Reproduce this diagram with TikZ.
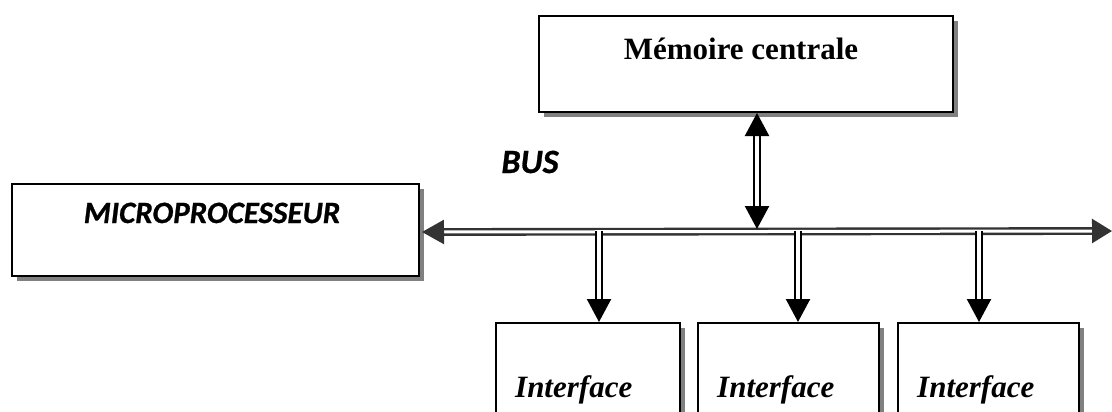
\documentclass[tikz,border=0pt]{standalone}
\usepackage{fontspec}
\setmainfont{Liberation Serif}
\newfontfamily\calib[BoldItalicFeatures={FakeBold=0.8}]{Carlito}
\usetikzlibrary{arrows.meta,shadows}
\definecolor{shadegrey}{HTML}{808080}
\definecolor{busgrey}{HTML}{333333}

\begin{document}
\begin{tikzpicture}[x=1pt,y=-1pt,
  box/.style={draw=black, line width=2pt, fill=white, inner sep=0pt, anchor=north west,
    drop shadow={shadow xshift=5pt, shadow yshift=-5pt, fill=shadegrey, opacity=1}},
  seriftxt/.style={inner sep=0pt, font=\fontsize{31}{37}\selectfont\bfseries},
  sanstxt/.style={inner sep=0pt, font=\fontsize{31}{37}\selectfont\calib\bfseries\itshape},
  arrtip/.tip={Triangle[width=24pt,length=23pt]},
  buslink/.style={draw=busgrey, line width=2.4pt, double=white, double distance=3pt,
    {Triangle[width=24pt,length=22pt]}-{Triangle[width=24pt,length=20pt]}},
  link/.style={draw=black, line width=2.3pt, double=white, double distance=3.6pt}
]
\clip (0,0) rectangle (1112,412);

% blocks
\node[box, minimum width=414pt, minimum height=96pt] (mem) at (538,15) {};
\node[box, minimum width=407pt, minimum height=92pt] (cpu) at (11,183) {};
\node[box, minimum width=184pt, minimum height=120pt] (if1) at (495,322) {};
\node[box, minimum width=181pt, minimum height=120pt] (if2) at (697,322) {};
\node[box, minimum width=181pt, minimum height=120pt] (if3) at (897,322) {};

% texts
\node[seriftxt, anchor=base] (tmem) at (741,60) {Mémoire centrale};
\node[sanstxt, anchor=base] (tcpu) at (212,223) {MICROPROCESSEUR};
\node[sanstxt, anchor=base, font=\fontsize{34}{40}\selectfont\calib\bfseries\itshape] (tbus) at (530,173) {BUS};
\node[seriftxt, anchor=base west] (tif1) at (515,397) {\itshape Interface};
\node[seriftxt, anchor=base west] (tif2) at (717,397) {\itshape Interface};
\node[seriftxt, anchor=base west] (tif3) at (917,397) {\itshape Interface};

% bus
\path (cpu.east) ++(2,2) coordinate (busL);
\coordinate (busR) at (1112,231);
\draw[buslink] (busL) -- (busR);

% memory <-> bus
\coordinate (mtop) at (757,113);
\coordinate (mbot) at (757,229);
\draw[link, arrtip-arrtip] (mtop) -- (mbot);

% bus -> interfaces
\coordinate (d1) at (599,231);
\coordinate (d2) at (798,231);
\coordinate (d3) at (979,231);
\draw[link, -arrtip] (d1) -- (if1.north -| d1);
\draw[link, -arrtip] (d2) -- (if2.north -| d2);
\draw[link, -arrtip] (d3) -- (if3.north -| d3);
\end{tikzpicture}
\end{document}
